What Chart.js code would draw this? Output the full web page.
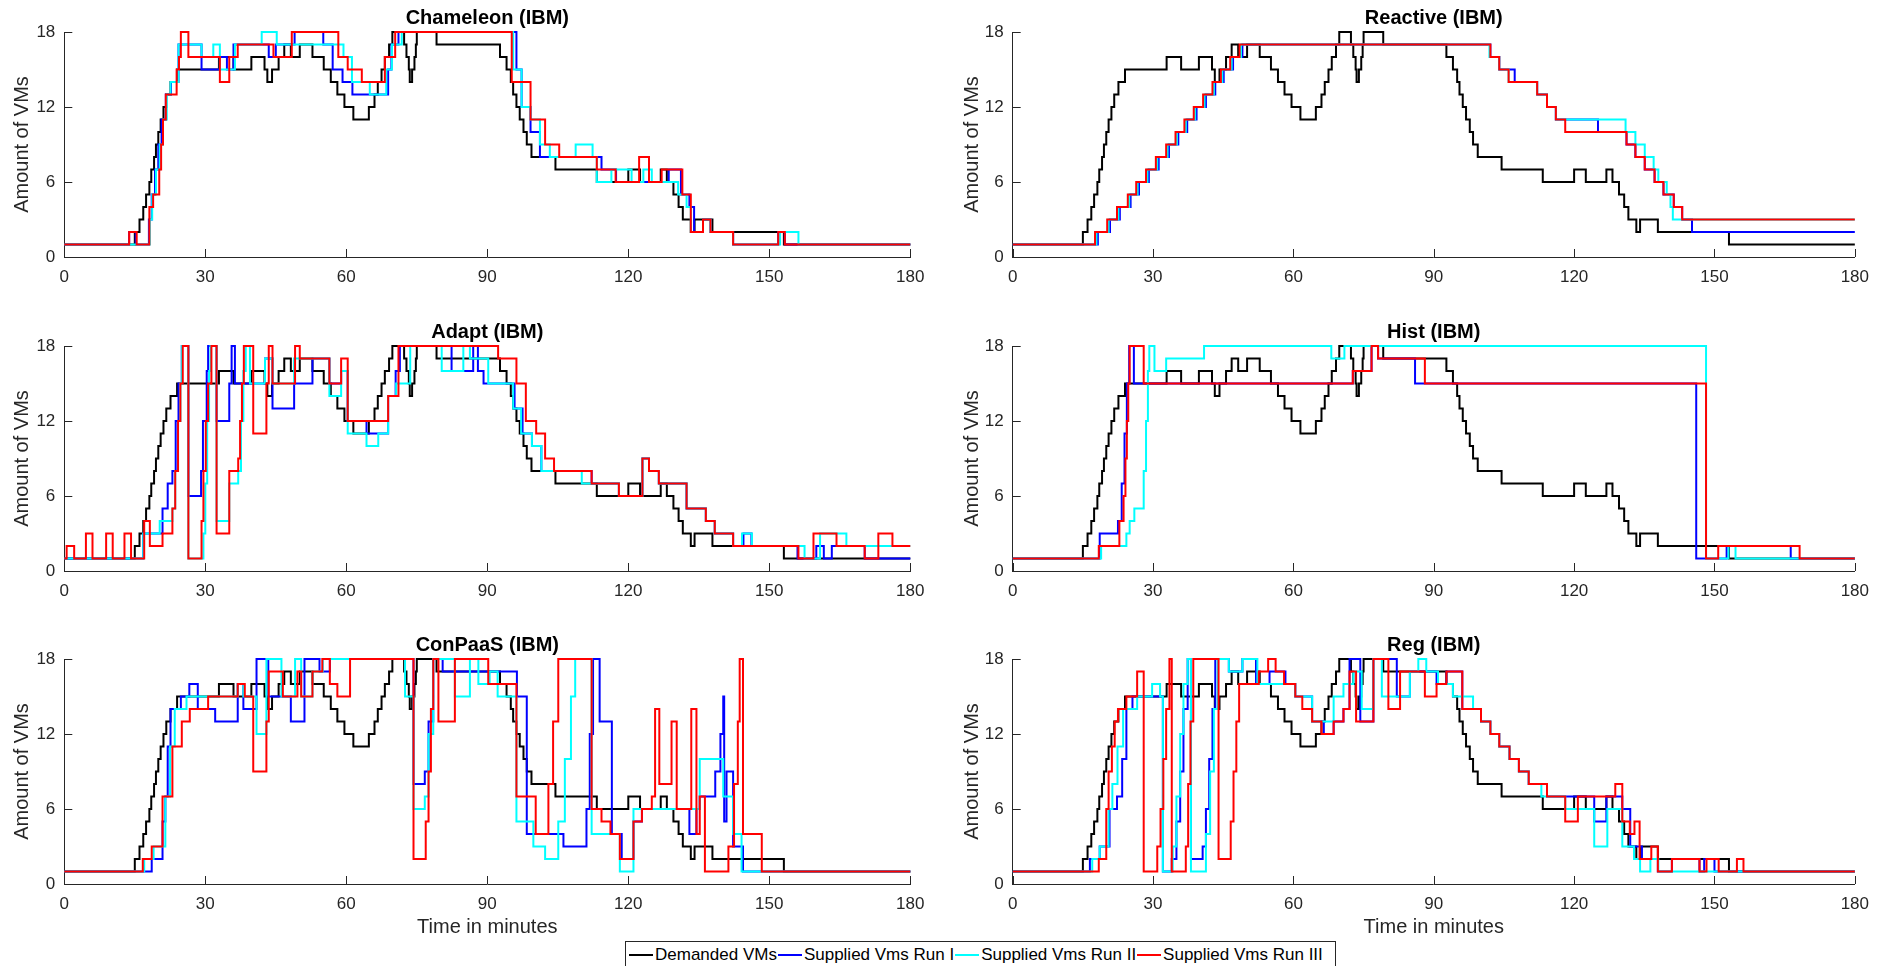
<!DOCTYPE html>
<html><head><meta charset="utf-8">
<script src="https://cdn.jsdelivr.net/npm/chart.js@4.4.0/dist/chart.umd.min.js"></script>
<style>
html,body{margin:0;padding:0;background:#fff;width:1879px;height:966px;overflow:hidden;position:relative;font-family:"Liberation Sans",Arial,sans-serif;}
canvas{position:absolute;}
#legend{position:absolute;left:625px;top:941px;width:711px;height:40px;border:1px solid #262626;background:#fff;display:flex;padding-left:3px;box-sizing:border-box;}
.item{height:26px;line-height:26px;font-size:17px;color:#000;white-space:nowrap;margin-right:1px;}
.ln{display:inline-block;width:24px;height:2px;vertical-align:middle;margin-right:2px;position:relative;top:-1px;}
</style></head>
<body>
<div id="legend"></div>
<script>
// ---------- data ----------
const xTicks = [0, 30, 60, 90, 120, 150, 180];
const yTicks = [0, 6, 12, 18];
const panelTitles = ['Chameleon (IBM)', 'Reactive (IBM)', 'Adapt (IBM)', 'Hist (IBM)', 'ConPaaS (IBM)', 'Reg (IBM)'];
const seriesNames = ['Demanded VMs', 'Supplied Vms Run I', 'Supplied Vms Run II', 'Supplied Vms Run III'];
const seriesColors = ['#000000', '#0000ff', '#00ffff', '#ff0000'];

// [time in minutes, VMs]  (value holds from that time on)
const demanded = [[0,1],[15.0,2],[16.0,3],[16.8,4],[17.4,5],[18.1,6],[18.5,7],[19.1,8],[19.5,9],[20.0,10],[20.5,11],[21.1,12],[21.7,13],[22.6,14],[24.0,15],[32.9,16],[36.0,15],[39.8,16],[42.6,15],[43.2,14],[44.2,15],[45.6,16],[46.8,17],[48.2,16],[50.1,17],[52.8,16],[55.2,15],[56.7,14],[58.1,13],[59.6,12],[61.5,11],[64.8,12],[66.0,13],[66.7,14],[67.5,15],[68.2,16],[69.1,17],[69.8,18],[72.3,17],[72.8,16],[73.3,15],[73.5,14],[74.0,15],[74.5,16],[74.8,17],[75.0,18],[79.2,17],[92.7,16],[94.1,15],[95.0,14],[95.5,13],[96.2,12],[96.9,11],[97.7,10],[98.4,9],[99.4,8],[104.5,7],[113.3,6],[120.0,7],[122.5,6],[126.9,7],[128.2,6],[129.6,5],[130.7,4],[131.6,3],[133.3,2],[134.1,3],[137.9,2],[153.1,1],[180,1]];

const chameleonRun1 = [[0,1],[13.8,2],[15.2,1],[18.0,3],[18.6,5],[19.3,7],[20.0,9],[20.7,11],[21.6,13],[22.7,14],[24.3,17],[29.2,15],[33.1,16],[34.6,15],[36.0,17],[43.5,16],[45.0,17],[49.0,18],[55.1,17],[57.1,15],[59.2,14],[61.3,13],[68.9,15],[69.6,17],[71.1,18],[96.2,15],[97.3,12],[99.2,10],[101.2,8],[114.3,7],[117.4,6],[128.6,7],[131.2,5],[133.0,4],[134.0,2],[135.9,3],[137.5,2],[142.3,1],[151.9,2],[153.3,1],[180,1]];
const chameleonRun2 = [[0,1],[18.2,3],[18.7,5],[19.5,7],[20.3,9],[21.0,11],[21.8,13],[22.6,14],[24.3,17],[29.2,16],[31.7,17],[33.1,15],[36.3,17],[42.0,18],[45.2,17],[59.4,16],[61.2,14],[65.0,13],[68.5,15],[69.7,17],[71.8,18],[95.5,15],[97.3,12],[99.2,11],[101.2,9],[103.3,8],[108.8,9],[112.4,8],[113.3,6],[116.4,7],[120.7,6],[123.2,7],[125.0,6],[130.6,5],[132.4,4],[133.3,2],[135.9,3],[137.5,2],[142.3,1],[152.3,2],[156.2,1],[180,1]];
const chameleonRun3 = [[0,1],[13.8,2],[15.4,1],[18.1,4],[18.9,5],[20.2,7],[20.6,9],[21.0,11],[21.6,13],[23.9,15],[24.4,16],[24.8,18],[26.4,16],[33.1,14],[35.1,16],[36.9,17],[44.5,16],[48.4,18],[58.3,16],[60.3,15],[63.3,14],[68.2,16],[70.4,18],[95.2,14],[99.2,11],[102.3,9],[105.3,8],[113.3,7],[117.3,6],[122.3,8],[124.4,6],[127.1,7],[131.5,5],[133.3,2],[135.9,3],[137.5,2],[142.3,1],[151.9,2],[153.3,1],[180,1]];

const reactiveRun1 = [[0,1],[18.2,2],[20.8,3],[22.9,4],[25.2,5],[27.0,6],[29.1,7],[31.2,8],[33.4,9],[35.4,10],[37.3,11],[39.3,12],[41.3,13],[43.3,14],[45.1,15],[47.1,16],[49.1,17],[102.1,16],[104.0,15],[107.3,14],[112.1,13],[114.2,12],[116.1,11],[125.1,10],[131.2,9],[133.1,8],[135.1,7],[137.2,6],[139.1,5],[141.3,4],[143.1,3],[145.2,2],[180,2]];
const reactiveRun2 = [[0,1],[17.9,2],[20.5,3],[22.6,4],[24.9,5],[26.7,6],[28.8,7],[30.9,8],[33.1,9],[35.1,10],[37.0,11],[39.0,12],[41.0,13],[43.0,14],[44.8,15],[46.8,16],[48.8,17],[101.9,16],[104.0,15],[106.0,14],[112.1,13],[114.2,12],[116.1,11],[131.0,10],[133.1,9],[135.1,8],[137.0,7],[138.0,6],[139.8,5],[140.6,4],[141.1,3],[180,3]];
const reactiveRun3 = [[0,1],[17.6,2],[20.2,3],[22.3,4],[24.6,5],[26.4,6],[28.5,7],[30.6,8],[32.8,9],[34.8,10],[36.7,11],[38.7,12],[40.7,13],[42.7,14],[44.5,15],[46.5,16],[48.5,17],[102.1,16],[104.0,15],[106.0,14],[112.1,13],[114.2,12],[116.1,11],[118.1,10],[131.2,9],[133.1,8],[135.1,7],[137.2,6],[139.1,5],[141.3,4],[143.1,3],[180,3]];

const adaptRun1 = [[0,1],[16.8,3],[20.9,5],[22.0,7],[23.0,8],[23.7,12],[24.3,15],[25.0,18],[26.4,6],[29.1,8],[29.5,12],[30.3,16],[30.6,18],[32.4,12],[35.1,15],[35.6,18],[36.3,15],[42.7,17],[44.3,13],[48.9,15],[52.8,17],[56.4,15],[58.9,16],[60.3,12],[64.3,11],[68.9,14],[70.5,16],[71.4,18],[82.4,16],[87.0,18],[88.0,16],[89.2,15],[95.8,13],[97.5,11],[99.5,10],[101.5,8],[112.2,7],[118.0,6],[123.0,9],[124.4,8],[126.5,7],[132.4,5],[136.5,4],[138.4,3],[142.3,2],[144.5,3],[146.2,2],[156.0,1],[160.0,2],[161.6,1],[163.3,2],[170.3,1],[180,1]];
const adaptRun2 = [[0,1],[16.8,3],[20.3,4],[23.0,5],[23.6,8],[24.2,12],[24.7,15],[25.0,18],[26.4,1],[29.6,3],[30.0,7],[30.4,12],[30.8,16],[31.1,18],[32.4,4],[35.1,7],[37.0,8],[37.6,12],[38.1,16],[38.6,18],[39.5,15],[42.7,17],[44.3,15],[48.9,17],[56.4,14],[58.9,16],[60.3,11],[64.3,10],[66.8,11],[68.9,14],[70.6,15],[73.6,18],[80.3,16],[84.9,18],[86.3,17],[90.2,15],[95.5,13],[97.2,11],[99.5,10],[101.5,8],[110.1,7],[118.0,6],[123.0,9],[124.4,8],[126.5,7],[132.4,5],[136.5,4],[138.4,3],[142.3,2],[144.2,3],[146.3,2],[157.5,1],[160.8,3],[166.4,2],[180,2]];
const adaptRun3 = [[0,1],[0.5,2],[2.1,1],[4.6,3],[6.0,1],[8.9,3],[10.3,1],[12.8,3],[14.2,1],[17.0,4],[18.2,2],[20.9,3],[23.0,5],[23.6,8],[24.2,12],[24.7,15],[25.2,18],[26.4,1],[29.2,4],[29.6,8],[30.1,12],[30.6,15],[31.3,18],[32.4,3],[35.1,8],[37.0,9],[37.4,12],[37.8,15],[38.2,18],[40.2,11],[43.0,15],[43.5,18],[44.3,15],[49.1,18],[50.1,17],[56.4,15],[58.9,17],[60.3,12],[68.9,14],[71.1,18],[92.3,17],[96.2,15],[98.2,12],[100.4,11],[102.3,9],[104.2,8],[112.2,7],[118.0,6],[123.0,9],[124.4,8],[126.5,7],[132.4,5],[136.5,4],[138.4,3],[142.3,2],[156.2,1],[159.4,3],[164.3,2],[170.3,1],[173.2,3],[176.2,2],[180,2]];

const histRun1 = [[0,1],[18.6,3],[22.5,4],[23.3,7],[23.9,11],[24.4,15],[24.9,18],[25.9,15],[72.7,16],[76.7,18],[78.1,17],[86.0,15],[146.1,1],[152.6,2],[166.3,1],[180,1]];
const histRun2 = [[0,1],[18.9,2],[24.3,3],[25.0,4],[26.0,5],[28.0,8],[28.5,12],[28.9,16],[29.2,18],[30.3,16],[32.8,17],[40.9,18],[68.1,17],[70.9,18],[148.2,1],[153.0,2],[154.5,1],[180,1]];
const histRun3 = [[0,1],[18.4,2],[22.8,4],[23.7,6],[24.1,9],[24.4,12],[24.7,15],[25.0,18],[28.0,15],[72.7,16],[76.7,18],[78.1,17],[88.1,15],[148.2,1],[150.8,2],[168.2,1],[180,1]];

const conpaasRun1 = [[0,1],[18.6,2],[20.9,5],[21.5,7],[22.0,11],[22.6,14],[24.8,15],[26.6,16],[28.4,14],[32.1,13],[36.9,16],[38.1,14],[40.9,18],[43.4,15],[48.2,13],[51.1,18],[54.3,17],[56.5,18],[74.3,8],[76.7,9],[77.5,13],[78.5,18],[80.5,17],[96.3,15],[98.4,4],[106.2,3],[111.1,6],[111.8,12],[112.5,18],[113.9,13],[116.5,4],[118.6,2],[121.1,5],[122.9,6],[133.0,4],[134.5,6],[135.2,7],[138.5,9],[139.6,12],[140.2,15],[140.4,5],[140.9,9],[142.3,3],[144.4,1],[180,1]];
const conpaasRun2 = [[0,1],[17.0,2],[19.0,3],[21.5,7],[22.5,11],[23.5,14],[26.0,15],[36.9,16],[38.1,15],[40.9,12],[43.0,18],[46.2,15],[49.1,18],[50.4,15],[52.8,17],[55.0,18],[72.5,15],[74.3,6],[76.7,7],[77.5,12],[78.5,18],[83.1,15],[86.3,18],[88.1,16],[90.5,17],[92.2,15],[96.2,5],[99.8,3],[102.3,2],[105.1,5],[106.5,10],[107.8,15],[108.7,18],[112.2,4],[118.2,1],[121.1,6],[135.2,10],[140.2,7],[142.3,4],[144.1,1],[180,1]];
const conpaasRun3 = [[0,1],[16.7,2],[18.6,3],[20.9,7],[23.0,11],[25.0,13],[26.7,14],[30.6,15],[36.9,16],[38.4,15],[40.2,9],[43.0,13],[43.5,17],[46.5,15],[49.6,17],[50.4,15],[52.8,17],[54.9,18],[56.5,16],[58.1,15],[60.8,18],[74.3,2],[76.9,5],[77.5,9],[78.0,14],[78.5,18],[79.6,13],[83.1,18],[90.2,16],[96.2,7],[100.3,4],[103.0,8],[104.0,13],[105.1,18],[112.2,6],[114.3,5],[116.2,4],[118.2,2],[121.1,5],[122.9,6],[125.0,7],[125.7,14],[126.6,8],[129.2,13],[130.3,6],[133.4,14],[134.5,4],[135.2,7],[136.3,1],[141.3,3],[142.5,8],[143.3,13],[143.7,18],[144.4,4],[148.4,1],[180,1]];

const regRun1 = [[0,1],[16.5,2],[18.6,3],[20.7,6],[22.3,7],[23.4,10],[24.3,14],[25.6,15],[32.1,1],[34.0,2],[35.0,5],[35.8,9],[36.5,14],[37.4,18],[38.1,2],[40.6,3],[41.3,6],[42.0,10],[42.7,14],[43.3,18],[46.2,17],[49.1,18],[52.0,16],[54.9,17],[58.3,16],[60.4,15],[64.0,13],[66.5,12],[68.6,13],[70.7,14],[72.0,18],[74.3,13],[77.1,18],[82.1,15],[84.9,17],[90.6,16],[92.7,17],[96.1,14],[100.1,13],[102.1,12],[104.0,11],[106.2,10],[108.2,9],[110.3,8],[114.2,7],[124.3,5],[126.9,7],[130.3,6],[132.0,3],[134.5,2],[137.9,1],[140.9,2],[146.8,1],[147.8,2],[150.0,1],[180,1]];
const regRun2 = [[0,1],[17.0,2],[18.6,3],[20.5,6],[21.3,8],[22.4,11],[23.6,14],[26.6,15],[29.8,16],[31.5,15],[32.1,1],[34.2,3],[35.0,7],[35.8,12],[36.5,16],[37.4,18],[38.1,1],[41.3,4],[42.2,9],[43.0,14],[43.8,18],[46.2,17],[49.1,18],[52.3,16],[60.4,15],[64.0,13],[68.6,15],[70.7,16],[72.8,17],[74.6,14],[77.1,18],[78.9,15],[84.9,17],[86.7,18],[88.4,17],[90.9,16],[94.1,15],[98.4,14],[100.1,13],[102.1,12],[104.0,11],[106.2,10],[108.2,9],[110.3,8],[113.0,7],[118.1,6],[124.3,3],[127.1,6],[130.3,3],[132.8,2],[134.1,1],[136.3,2],[138.0,1],[180,1]];
const regRun3 = [[0,1],[18.4,2],[20.0,6],[20.5,9],[21.2,11],[21.8,13],[22.5,14],[24.3,15],[26.6,17],[28.0,1],[30.9,3],[31.6,6],[32.2,10],[32.8,14],[33.5,18],[34.0,1],[37.0,3],[37.5,8],[38.0,13],[38.6,18],[44.0,2],[46.6,5],[47.2,9],[47.8,13],[48.4,16],[52.6,17],[54.6,18],[56.2,17],[58.0,16],[60.4,15],[61.9,14],[64.0,13],[66.0,12],[68.6,13],[70.7,14],[72.0,17],[73.4,13],[77.1,18],[80.3,14],[82.8,17],[88.1,15],[90.6,16],[92.7,17],[96.1,14],[100.1,13],[102.1,12],[104.0,11],[106.2,10],[108.2,9],[110.3,8],[114.2,7],[118.1,5],[120.8,7],[128.8,8],[130.3,5],[131.9,4],[132.9,5],[134.0,2],[136.5,3],[137.9,1],[140.9,2],[146.8,1],[148.3,2],[150.9,1],[154.8,2],[156.2,1],[180,1]];

const panelRuns = [
  [chameleonRun1, chameleonRun2, chameleonRun3],
  [reactiveRun1, reactiveRun2, reactiveRun3],
  [adaptRun1, adaptRun2, adaptRun3],
  [histRun1, histRun2, histRun3],
  [conpaasRun1, conpaasRun2, conpaasRun3],
  [regRun1, regRun2, regRun3]
];

// ---------- layout ----------
const cols = [
  {left: 0, w: 940, yw: 64.3, rp: 29.7},
  {left: 950, w: 929, yw: 62.7, rp: 20.3}
];
const rows = [
  {top: 0, h: 290, xh: 33, xTitle: false},
  {top: 314, h: 290, xh: 33, xTitle: false},
  {top: 627, h: 313, xh: 56, xTitle: true}
];

Chart.defaults.font.family = '"Liberation Sans", Arial, Helvetica, sans-serif';
Chart.defaults.color = '#262626';

const inwardTicks = {
  id: 'inwardTicks',
  beforeDatasetsDraw(chart) {
    const ctx = chart.ctx, a = chart.chartArea, xs = chart.scales.x, ys = chart.scales.y;
    ctx.save();
    ctx.strokeStyle = '#262626';
    ctx.lineWidth = 1;
    ctx.beginPath();
    xTicks.forEach(v => { const px = Math.round(xs.getPixelForValue(v)) + 0.5; ctx.moveTo(px, a.bottom); ctx.lineTo(px, a.bottom - 8); });
    yTicks.forEach(v => { const py = Math.round(ys.getPixelForValue(v)) + 0.5; ctx.moveTo(a.left, py); ctx.lineTo(a.left + 8, py); });
    ctx.stroke();
    ctx.restore();
  }
};

function makeDataset(i, arr) {
  return {
    label: seriesNames[i],
    data: arr.map(p => ({x: p[0], y: p[1]})),
    borderColor: seriesColors[i],
    backgroundColor: seriesColors[i],
    borderWidth: 2,
    pointRadius: 0,
    pointHoverRadius: 0,
    stepped: 'before',
    fill: false,
    order: 4 - i,
    clip: 4
  };
}

for (let p = 0; p < 6; p++) {
  const col = cols[p % 2], row = rows[Math.floor(p / 2)];
  const cv = document.createElement('canvas');
  cv.width = col.w; cv.height = row.h;
  cv.style.left = col.left + 'px'; cv.style.top = row.top + 'px';
  cv.style.width = col.w + 'px'; cv.style.height = row.h + 'px';
  document.body.appendChild(cv);
  const runs = panelRuns[p];
  new Chart(cv, {
    type: 'line',
    data: {datasets: [makeDataset(0, demanded), makeDataset(1, runs[0]), makeDataset(2, runs[1]), makeDataset(3, runs[2])]},
    options: {
      responsive: false,
      animation: false,
      devicePixelRatio: 1,
      layout: {padding: {left: 0, right: col.rp, top: 0, bottom: 0}},
      plugins: {
        legend: {display: false},
        tooltip: {enabled: false},
        title: {
          display: true, text: panelTitles[p], color: '#000', fullSize: false,
          font: {size: 20, weight: 'bold'}, padding: {top: 6.6, bottom: 1.4}
        }
      },
      scales: {
        x: {
          type: 'linear', min: 0, max: 180,
          afterFit: s => { s.height = row.xh; },
          afterBuildTicks: s => { s.ticks = xTicks.map(v => ({value: v})); },
          ticks: {color: '#262626', font: {size: 17}, padding: 10, maxRotation: 0, autoSkip: false},
          grid: {display: true, drawOnChartArea: false, drawTicks: false},
          border: {display: true, color: '#262626', width: 1},
          title: {display: row.xTitle, text: 'Time in minutes', color: '#262626', font: {size: 20}, padding: {top: 0, bottom: 1}}
        },
        y: {
          type: 'linear', min: 0, max: 18,
          afterFit: s => { s.width = col.yw; },
          afterBuildTicks: s => { s.ticks = yTicks.map(v => ({value: v})); },
          ticks: {color: '#262626', font: {size: 17}, padding: 9, autoSkip: false},
          grid: {display: true, drawOnChartArea: false, drawTicks: false},
          border: {display: true, color: '#262626', width: 1},
          title: {display: true, text: 'Amount of VMs', color: '#262626', font: {size: 20}, padding: {top: 10, bottom: 0}}
        }
      }
    },
    plugins: [inwardTicks]
  });
}

// ---------- legend ----------
const lg = document.getElementById('legend');
seriesNames.forEach((n, i) => {
  const it = document.createElement('div');
  it.className = 'item';
  it.innerHTML = '<span class="ln" style="background:' + seriesColors[i] + '"></span>' + n;
  lg.appendChild(it);
});
</script>
</body></html>
